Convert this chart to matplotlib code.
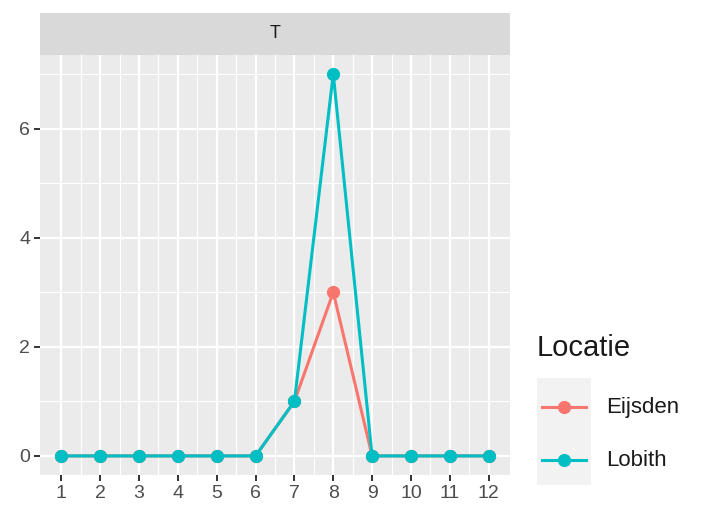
import matplotlib.pyplot as plt
from matplotlib.lines import Line2D
from matplotlib.patches import Rectangle

plt.rcParams["font.family"] = ["Liberation Sans", "DejaVu Sans"]

months = [1, 2, 3, 4, 5, 6, 7, 8, 9, 10, 11, 12]
eijsden = [0, 0, 0, 0, 0, 0, 1, 3, 0, 0, 0, 0]
lobith = [0, 0, 0, 0, 0, 0, 1, 7, 0, 0, 0, 0]
series = [("Eijsden", eijsden, "#F8766D"), ("Lobith", lobith, "#00BFC4")]
facet = "T"
legend_title = "Locatie"

W, H = 701, 507
fig = plt.figure(figsize=(W / 100, H / 100), dpi=100)

# panel
l, r, t, b = 40, 510, 55, 475
ax = fig.add_axes([l / W, 1 - b / H, (r - l) / W, (b - t) / H])
ax.set_facecolor("#EBEBEB")
for s in ax.spines.values():
    s.set_visible(False)

for name, vals, col in series:
    ax.plot(months, vals, color=col, lw=2.2, marker="o", ms=8.5, zorder=3)

ax.set_xlim(0.45, 12.55)
ax.set_ylim(-0.35, 7.35)
ax.set_xticks(months)
ax.set_yticks([0, 2, 4, 6])
ax.set_xticks([m + 0.5 for m in months[:-1]], minor=True)
ax.set_yticks([1, 3, 5, 7], minor=True)
ax.grid(True, which="major", color="white", lw=1.6)
ax.grid(True, which="minor", color="white", lw=0.8)
ax.set_axisbelow(True)
ax.tick_params(which="major", length=4, width=1.4, color="#333333",
               labelsize=14, labelcolor="#4D4D4D", pad=3)
ax.tick_params(which="minor", length=0)

# strip
st = 13
sax = fig.add_axes([l / W, 1 - t / H, (r - l) / W, (t - st) / H])
sax.set_facecolor("#D9D9D9")
sax.set_xticks([])
sax.set_yticks([])
for s in sax.spines.values():
    s.set_visible(False)
sax.text(0.5, 0.5, facet, ha="center", va="center", fontsize=13, color="#1A1A1A")

# legend
fig.text(537 / W, 1 - 348 / H, legend_title, fontsize=21, color="#1A1A1A",
         ha="left", va="center")
fig.add_artist(Rectangle((537 / W, 1 - 485 / H), 54 / W, 107 / H,
                         transform=fig.transFigure, facecolor="#F2F2F2",
                         edgecolor="none"))
for i, (name, vals, col) in enumerate(series):
    yc = 1 - (407 + i * 53) / H
    fig.add_artist(Line2D([542 / W, 586 / W], [yc, yc], transform=fig.transFigure,
                          color=col, lw=2.2))
    fig.add_artist(Line2D([564 / W], [yc], transform=fig.transFigure,
                          color=col, marker="o", ms=8.5, lw=0))
    fig.text(606 / W, yc, name, fontsize=16, color="#1A1A1A", ha="left", va="center")

fig.savefig("out.png", dpi=100)
